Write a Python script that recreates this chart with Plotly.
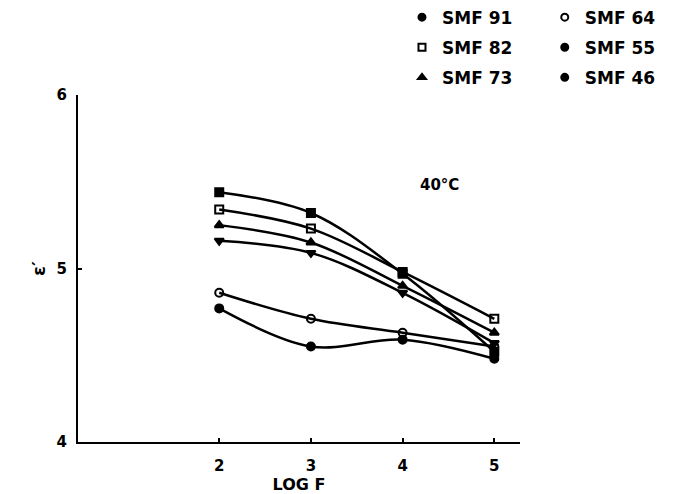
import plotly.graph_objects as go

# ---------------- data ----------------
log_f = [2, 3, 4, 5]
smf91 = [5.44, 5.32, 4.97, 4.52]
smf82 = [5.34, 5.23, 4.98, 4.71]
smf73 = [5.25, 5.15, 4.90, 4.63]
smf64 = [4.86, 4.71, 4.63, 4.55]
smf55 = [5.16, 5.09, 4.86, 4.57]
smf46 = [4.77, 4.55, 4.59, 4.48]

series_names = ["SMF 91", "SMF 82", "SMF 73", "SMF 64", "SMF 55", "SMF 46"]
series_vals = [smf91, smf82, smf73, smf64, smf55, smf46]
plot_symbols = ["square", "square-open", "triangle-up", "circle-open", "triangle-down", "circle"]
legend_symbols = ["circle", "square-open", "triangle-up", "circle-open", "circle", "circle"]
legend_ids = ["legend", "legend", "legend", "legend2", "legend2", "legend2"]

x_ticks = [2, 3, 4, 5]
y_ticks = [4, 5, 6]

FONT = "DejaVu Sans"

fig = go.Figure()

for name, vals, sym in zip(series_names, series_vals, plot_symbols):
    fig.add_trace(go.Scatter(
        x=log_f, y=vals, mode="lines+markers", name=name, showlegend=False,
        line=dict(color="black", width=2.5, shape="spline", smoothing=1.0),
        marker=dict(symbol=sym, size=8, color="black",
                    line=dict(color="black", width=2)),
    ))

# marker-only legend entries
for name, sym, lg in zip(series_names, legend_symbols, legend_ids):
    fig.add_trace(go.Scatter(
        x=[None], y=[None], mode="markers", name=name, legend=lg,
        legendgroup=name,
        marker=dict(symbol=sym, size=7, color="black",
                    line=dict(color="black", width=2)),
    ))

legend_style = dict(
    font=dict(family=FONT, size=17, color="black", weight="bold"),
    bgcolor="rgba(0,0,0,0)", borderwidth=0,
    xanchor="left", yanchor="top", tracegroupgap=5,
    orientation="v",
)

fig.update_layout(
    width=677, height=486,
    paper_bgcolor="white", plot_bgcolor="white",
    margin=dict(l=70, r=165, t=87, b=52, autoexpand=False),
    font=dict(family=FONT, color="black", size=15, weight="bold"),
    legend=dict(x=0.733, y=1.275, **legend_style),
    legend2=dict(x=1.056, y=1.275, **legend_style),
    xaxis=dict(
        range=[0.46, 5.28], tickvals=x_ticks, ticktext=[str(v) for v in x_ticks],
        showgrid=False, zeroline=False, showline=True, linecolor="black", linewidth=2,
        ticks="inside", ticklen=4, tickwidth=2, tickcolor="black",
        ticklabelstandoff=9,
        tickfont=dict(family=FONT, size=15, weight="bold"),
        title=dict(text="LOG F", standoff=6,
                   font=dict(family=FONT, size=16, weight="bold")),
    ),
    yaxis=dict(
        range=[4, 6], tickvals=y_ticks, ticktext=[str(v) for v in y_ticks],
        showgrid=False, zeroline=False, showline=True, linecolor="black", linewidth=2,
        ticks="inside", ticklen=4, tickwidth=2, tickcolor="black",
        ticklabelstandoff=6,
        tickfont=dict(family=FONT, size=15, weight="bold"),
        title=dict(text="ε′", standoff=6,
                   font=dict(family=FONT, size=18, weight="bold")),
    ),
    annotations=[
        dict(text="40°C", x=0.819, y=0.741, xref="paper", yref="paper",
             xanchor="center", yanchor="middle",
             showarrow=False, font=dict(family=FONT, size=15, weight="bold")),
    ],
)

fig.write_html("out.html")
